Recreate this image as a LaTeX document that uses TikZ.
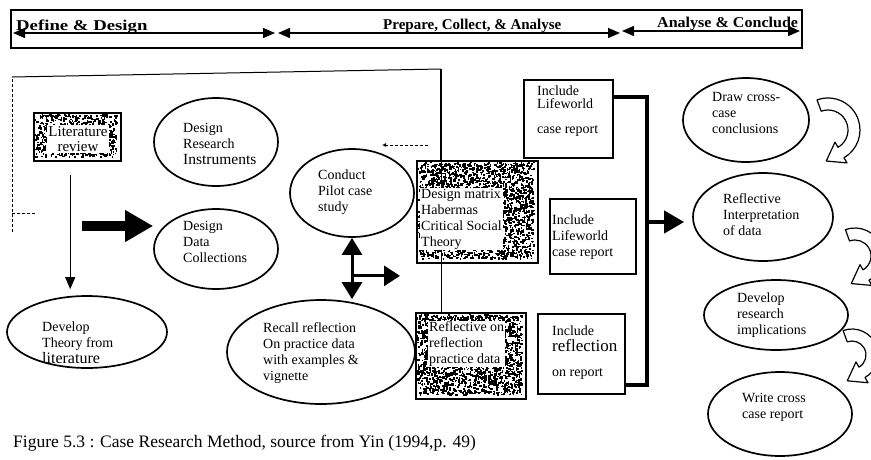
\documentclass[tikz,border=0pt]{standalone}
\usepackage{fontspec}
\setmainfont{Liberation Serif}
\usetikzlibrary{shapes.geometric,arrows.meta,calc}
\newcommand{\noisebox}[5]{%
  \foreach \i in {1,...,#5}{\fill ({#1+rnd*(#3-2)},{#2+rnd*(#4-2)}) rectangle ++({1+rnd*1.6},{1+rnd*1.6});}}
\newcommand{\curvedblockarrow}[5]{%
  \pgfmathsetmacro\rout{#3+6}\pgfmathsetmacro\rin{#3-6}%
  \pgfmathsetmacro\rhout{#3+12}\pgfmathsetmacro\rhin{#3-12}%
  \pgfmathsetmacro\tipang{#5+90}%
  \filldraw[fill=white, line width=1.2pt, line join=round]
    ($(#1,#2)+(#4:\rout)$) arc[start angle=#4, end angle=#5, radius=\rout]
    -- ($(#1,#2)+(#5:\rhout)$)
    -- ($(#1,#2)+(#5:#3)+(\tipang:17)$)
    -- ($(#1,#2)+(#5:\rhin)$)
    -- ($(#1,#2)+(#5:\rin)$)
    arc[start angle=#5, end angle=#4, radius=\rin]
    -- cycle;}
\begin{document}
\begin{tikzpicture}[x=1pt,y=-1pt,
  ell/.style={draw, ellipse, line width=1.7pt, inner sep=0},
  box/.style={draw, rectangle, line width=1.5pt, inner sep=0, anchor=north west},
  txt/.style={align=left, anchor=west, inner sep=0, font=\fontsize{14}{16}\selectfont},
  ntxt/.style={txt, fill=white, inner sep=1pt},
  hdr/.style={font=\bfseries\fontsize{15}{17}\selectfont, anchor=base west, inner sep=0},
  harrow/.style={line width=1.4pt, {Triangle[length=12pt,width=10pt]}-{Triangle[length=12pt,width=10pt]}},
  thinarrow/.style={line width=1pt, -{Triangle[length=12pt,width=10pt]}}
]
\pgfmathsetseed{7}
\useasboundingbox (0,0) rectangle (871,459);
\fill[white] (0,0) rectangle (871,459);

% header band
\draw[line width=1.6pt] (11,10) rectangle (802,48);
\coordinate (h1) at (13,33); \coordinate (h2) at (275,33);
\coordinate (h3) at (278,33); \coordinate (h4) at (620,33);
\coordinate (h5) at (622,31); \coordinate (h6) at (800,31);
\draw[harrow] (h1) -- (h2);
\draw[harrow] (h3) -- (h4);
\draw[harrow] (h5) -- (h6);
\node[hdr, font=\bfseries\fontsize{15}{17}\selectfont\addfontfeatures{FakeStretch=1.25}] (t1) at (16,30) {Define \& Design};
\node[hdr] (t2) at (383,29) {Prepare, Collect, \& Analyse};
\node[hdr, font=\bfseries\fontsize{15}{17}\selectfont\addfontfeatures{FakeStretch=1.07}] (t3) at (657,27) {Analyse \& Conclude};

% frame lines
\draw[line width=0.9pt, densely dashed] (12,232) -- (12,77);
\draw[line width=0.9pt, densely dashed] (12,213) -- (35,213);
\draw[line width=1pt] (12,77) -- (441,69);
\draw[line width=1.6pt] (441,69) -- (441,160);
\draw[line width=0.9pt, densely dashed, -{Latex[length=4pt,width=4pt]}] (428,145) -- (382,145);

% ellipses
\node[ell, minimum width=160pt, minimum height=72pt] (dev) at (87,332) {};
\node[ell, minimum width=124pt, minimum height=88pt] (instr) at (216,142) {};
\node[ell, minimum width=124pt, minimum height=80pt] (dcoll) at (216,249) {};
\node[ell, minimum width=124pt, minimum height=88pt] (pilot) at (352,193) {};
\node[ell, minimum width=188pt, minimum height=104pt] (recall) at (321,352) {};
\node[ell, minimum width=126pt, minimum height=84pt] (dcc) at (746,120) {};
\node[ell, minimum width=140pt, minimum height=88pt] (ri) at (763,217) {};
\node[ell, minimum width=144pt, minimum height=70pt] (dri) at (776,315) {};
\node[ell, minimum width=144pt, minimum height=84pt] (wcr) at (780,414) {};

\node[txt] (dev-t) at (42,343) {Develop\\Theory from\\{\fontsize{16}{16}\selectfont literature}};
\node[txt] (instr-t) at (183,144) {Design\\Research\\{\fontsize{15.5}{16}\selectfont Instruments}};
\node[txt] (dcoll-t) at (183,242) {Design\\Data\\Collections};
\node[txt] (pilot-t) at (318,192) {Conduct\\Pilot case\\study};
\node[txt] (recall-t) at (263,353) {Recall reflection\\On practice data\\with examples \&\\vignette};
\node[txt] (dcc-t) at (712,113) {Draw cross-\\case\\conclusions};
\node[txt] (ri-t) at (723,215) {Reflective\\Interpretation\\of data};
\node[txt] (dri-t) at (737,315) {Develop\\research\\implications};
\node[txt] (wcr-t) at (742,407) {Write cross\\case report};

% boxes
\node[box, minimum width=87pt, minimum height=48pt, line width=2.4pt] (lit) at (33,112) {};
\node[box, minimum width=121pt, minimum height=102pt, line width=2pt] (dm) at (416,160) {};
\node[box, minimum width=110pt, minimum height=86pt, line width=2pt] (refl) at (415,312) {};
\node[box, minimum width=89pt, minimum height=78pt] (inc1) at (523,79) {};
\node[box, minimum width=86pt, minimum height=75pt] (inc2) at (549,198) {};
\node[box, minimum width=87pt, minimum height=80pt, line width=1.9pt] (inc3) at (537,313) {};

\noisebox{35}{114}{83}{44}{700}
\noisebox{418}{162}{117}{98}{2500}
\noisebox{417}{314}{106}{82}{2000}
\draw[line width=0.9pt] (441,160) -- (441,312);

\node[ntxt, align=center, anchor=center, font=\fontsize{15}{15}\selectfont] (lit-t) at (78,139) {Literature\\review};
\node[ntxt] (dm-t) at (420,219) {Design matrix\\Habermas\\Critical Social\\Theory};
\node[ntxt] (refl-t) at (428,344) {Reflective on\\reflection\\practice data};

\node[txt, font=\fontsize{14}{13}\selectfont] (inc1-t) at (537,111) {Include\\Lifeworld\\[12pt]case report};
\node[txt] (inc2-t) at (552,237) {Include\\Lifeworld\\case report};
\node[txt] (inc3-t) at (552,353) {Include\\{\fontsize{17}{17}\selectfont reflection}\\[9pt]on report};

% connectors
\draw[thinarrow, shorten <=13pt, shorten >=6pt] ([xshift=-7.5pt]lit.south) -- ([xshift=-7.5pt]lit.south |- dev.north);
\coordinate (ts) at (82,226);
\draw[line width=10pt, -{Triangle[length=28pt,width=30pt]}] (ts) -- (ts -| dcoll.west);
\draw[line width=3pt, {Triangle[length=17pt,width=20pt]}-{Triangle[length=17pt,width=20pt]}] (pilot.south) -- (pilot.south |- recall.north);
\coordinate (jn) at ($(pilot.south)+(0,38)$);
\draw[line width=3pt, shorten >=16pt, -{Triangle[length=16pt,width=20pt]}] (jn) -- (jn -| dm.west);

\coordinate (brt) at (647,97);
\coordinate (brb) at (647,385);
\coordinate (bm) at (647,222);
\draw[line width=4pt] (inc1.east |- brt) -- (brt) -- (brb) -- (inc3.east |- brb);
\draw[line width=4pt, shorten >=8pt, -{Triangle[length=20pt,width=22pt]}] (bm) -- (bm -| ri.west);

% curved block arrows
\begin{scope}
\clip (0,0) rectangle (871,459);
\curvedblockarrow{828}{130}{26}{-110}{60}
\curvedblockarrow{855}{256}{22}{-110}{60}
\curvedblockarrow{852}{355}{20}{-110}{60}
\end{scope}

% caption
\node[txt, font=\fontsize{17.5}{18}\selectfont] (cap) at (13,443) {Figure 5.3 : Case Research Method, source from Yin (1994,p. 49)};
\end{tikzpicture}
\end{document}
